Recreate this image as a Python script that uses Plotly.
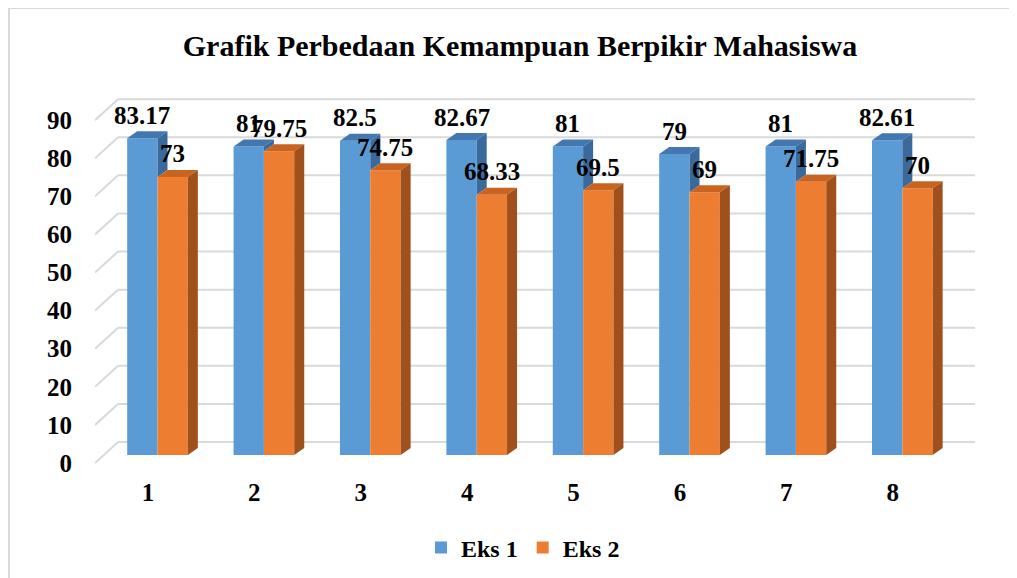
import plotly.graph_objects as go

categories = ["1", "2", "3", "4", "5", "6", "7", "8"]
eks1 = [83.17, 81, 82.5, 82.67, 81, 79, 81, 82.61]
eks2 = [73, 79.75, 74.75, 68.33, 69.5, 69, 71.75, 70]
y_ticks = [0, 10, 20, 30, 40, 50, 60, 70, 80, 90]
series_names = ["Eks 1", "Eks 2"]

FONT = "Liberation Serif, Times New Roman, serif"
BLUE, BLUE_TOP, BLUE_SIDE = "#5B9BD5", "#4277B0", "#3A6A9C"
ORANGE, ORANGE_TOP, ORANGE_SIDE = "#ED7D31", "#C8641F", "#A0501B"

W = 0.285          # bar width (category units)
DX = 0.094         # depth offset in x units
DY = 1.84          # depth offset in value units
BACK = 3.41        # back wall offset (value units)
FRONT = -2.1       # front edge of floor (value units)
X0, X1 = 0.4126, 8.683
XB = 0.629         # x of back wall left edge

xs = list(range(1, len(categories) + 1))

fig = go.Figure()

# front faces
fig.add_trace(go.Bar(x=xs, y=eks1, width=W, offset=-W, marker=dict(color=BLUE, line=dict(width=0)),
                     name=series_names[0]))
fig.add_trace(go.Bar(x=xs, y=eks2, width=W, offset=0, marker=dict(color=ORANGE, line=dict(width=0)),
                     name=series_names[1]))


def poly(px, py, color):
    fig.add_trace(go.Scatter(x=px + [px[0]], y=py + [py[0]], mode="lines", fill="toself",
                             fillcolor=color, line=dict(width=0, color=color),
                             hoverinfo="skip", showlegend=False))


for i, (a, b) in enumerate(zip(eks1, eks2)):
    c = xs[i]
    # blue top
    poly([c - W, c, c + DX, c - W + DX], [a, a, a + DY, a + DY], BLUE_TOP)
    # blue side (visible part above orange)
    if a > b:
        poly([c, c + DX, c + DX, c], [b, b + DY, a + DY, a], BLUE_SIDE)
    # orange top
    poly([c, c + W, c + W + DX, c + DX], [b, b, b + DY, b + DY], ORANGE_TOP)
    # orange side
    poly([c + W, c + W + DX, c + W + DX, c + W], [0, DY, b + DY, b], ORANGE_SIDE)

# gridlines (back wall + floor diagonals)
shapes = []
for v in y_ticks:
    shapes.append(dict(type="line", xref="x", yref="y", x0=XB, x1=X1, y0=v + BACK, y1=v + BACK,
                       line=dict(color="#D9D9D9", width=2), layer="below"))
    shapes.append(dict(type="line", xref="x", yref="y", x0=X0, x1=XB, y0=v + FRONT, y1=v + BACK,
                       line=dict(color="#D9D9D9", width=2), layer="below"))
# chart border
shapes.append(dict(type="rect", xref="paper", yref="paper",
                   x0=(9 - 95) / 880, x1=(1040 - 95) / 880,
                   y0=(465 - 620) / 370, y1=(465 - 8) / 370,
                   line=dict(color="#D9D9D9", width=2), layer="below"))

LBL = dict(family=FONT, size=25, color="black", weight="bold")
annotations = []
for i, (a, b) in enumerate(zip(eks1, eks2)):
    c = xs[i]
    annotations.append(dict(x=c - W / 2, y=a, text=f"{a:g}", showarrow=False, yshift=23, font=LBL))
    annotations.append(dict(x=c + W / 2, y=b, text=f"{b:g}", showarrow=False, yshift=23, font=LBL))

fig.update_layout(
    width=1017, height=578,
    margin=dict(l=87, r=50, t=87, b=121, autoexpand=False),
    paper_bgcolor="white", plot_bgcolor="white",
    title=dict(text="Grafik Perbedaan Kemampuan Berpikir Mahasiswa", x=512 / 1017, xanchor="center",
               y=1 - 37 / 578, yanchor="middle",
               font=dict(family=FONT, size=30, color="black", weight="bold")),
    xaxis=dict(range=[X0, X1], tickvals=[x - 0.09 for x in xs], ticktext=categories,
               showgrid=False, zeroline=False, showline=False, ticks="", automargin=False,
               ticklabelstandoff=10,
               tickfont=dict(family=FONT, size=25, color="black", weight="bold")),
    yaxis=dict(range=[-2.62, 94.5], tickvals=[v + FRONT for v in y_ticks], ticktext=[str(v) for v in y_ticks],
               showgrid=False, zeroline=False, showline=False, ticks="", automargin=False,
               ticklabelstandoff=22,
               tickfont=dict(family=FONT, size=25, color="black", weight="bold")),
    showlegend=True,
    legend=dict(orientation="h", x=(523 - 95) / 880, xanchor="center",
                y=(465 - 548) / 370, yanchor="middle",
                font=dict(family=FONT, size=24, color="black", weight="bold"),
                itemwidth=30, traceorder="normal"),
    shapes=shapes, annotations=annotations,
)

fig.write_html("out.html")
